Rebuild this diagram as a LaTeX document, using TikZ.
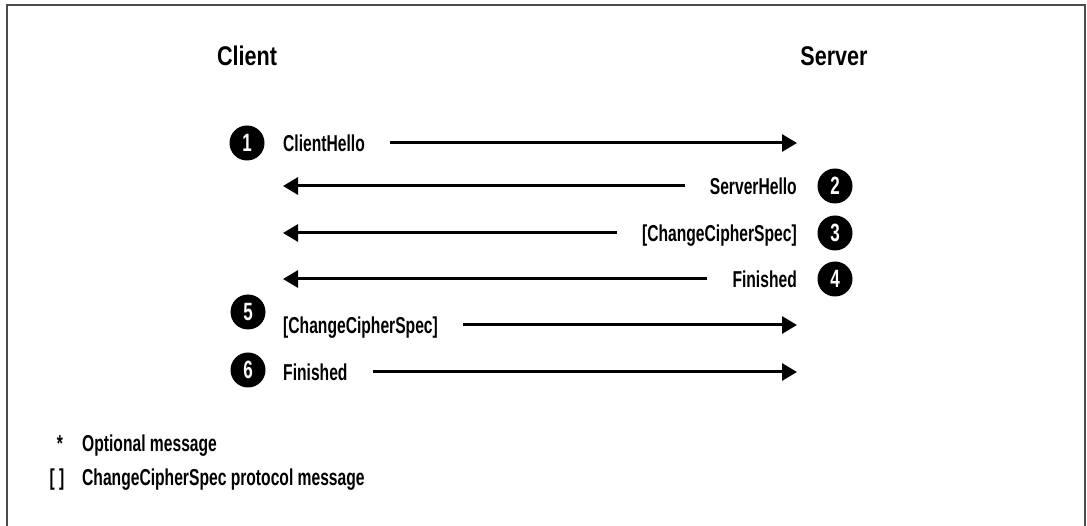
\documentclass[tikz,border=0pt]{standalone}
\usepackage{fontspec}
\setmainfont{Liberation Sans}[FakeStretch=0.68]
\newfontfamily\headfont{Liberation Sans}[FakeStretch=0.8]
\usetikzlibrary{arrows.meta}
\usetikzlibrary{positioning}
\tikzset{
  msgtext/.style={font=\fontsize{23}{23}\selectfont\bfseries, inner sep=0pt, text height=16.5pt, text depth=0pt},
  numdot/.style={circle, fill=black, text=white, minimum size=35pt, inner sep=0pt, font=\fontsize{25}{25}\selectfont\bfseries},
  msg/.style={line width=3pt, -{Triangle[length=15pt,width=17pt]}, shorten <=25pt},
  party/.style={font=\headfont\fontsize{27}{27}\selectfont\bfseries, inner sep=0pt}
}
\begin{document}
\begin{tikzpicture}[x=1pt, y=-1pt]
\useasboundingbox (0,0) rectangle (1087,526);
\draw[line width=2pt, black!70] (7,526) -- (7,5) -- (1085,5) -- (1085,526);

\node[party] (client) at (247,56) {Client};
\node[party] (server) at (834,56) {Server};

\foreach \n/\x/\y in {1/247/143, 2/835/186, 3/835/233, 4/835/279, 5/248/312, 6/248/370}
  \node[numdot] (n\n) at (\x,\y) {\n};

\node[msgtext, anchor=west] (m1) at (283,143) {ClientHello};
\node[msgtext, anchor=east] (m2) at (797,186) {ServerHello};
\node[msgtext, anchor=east] (m3) at (797,233) {[ChangeCipherSpec]};
\node[msgtext, anchor=east] (m4) at (797,279) {Finished};
\node[msgtext, anchor=west] (m5) at (283,325) {[ChangeCipherSpec]};
\node[msgtext, anchor=west] (m6) at (283,372) {Finished};

\coordinate (s1) at (797,143);
\coordinate (c2) at (283,186);
\coordinate (c3) at (283,233);
\coordinate (c4) at (283,279);
\coordinate (s5) at (797,325);
\coordinate (s6) at (797,372);

\foreach \a/\b in {m1/s1, m2/c2, m3/c3, m4/c4, m5/s5, m6/s6}
  \draw[msg] (\a) -- (\b);

\node[msgtext] (star) at (60,443) {*};
\node[msgtext, anchor=west] (opt) at (82,443) {Optional message};
\node[msgtext] (brk) at (57,477) {[ ]};
\node[msgtext, anchor=west] (ccs) at (82,477) {ChangeCipherSpec protocol message};
\end{tikzpicture}
\end{document}
